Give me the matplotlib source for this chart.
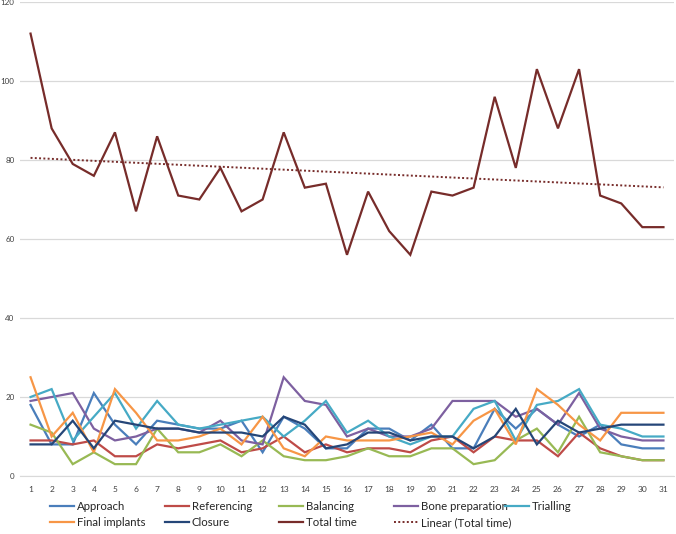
import numpy as np
import matplotlib
matplotlib.use('Agg')
import matplotlib.pyplot as plt

plt.rcParams['font.family'] = ['Lato', 'DejaVu Sans']

cases = list(range(1, 32))
approach = [18, 8, 8, 21, 13, 8, 14, 13, 12, 12, 14, 6, 15, 12, 7, 7, 12, 12, 9, 13, 7, 7, 17, 12, 17, 13, 10, 13, 8, 7, 7]
referencing = [9, 9, 8, 9, 5, 5, 8, 7, 8, 9, 6, 7, 10, 6, 8, 6, 7, 7, 6, 9, 10, 6, 10, 9, 9, 5, 11, 7, 5, 4, 4]
balancing = [13, 11, 3, 6, 3, 3, 12, 6, 6, 8, 5, 9, 5, 4, 4, 5, 7, 5, 5, 7, 7, 3, 4, 9, 12, 6, 15, 6, 5, 4, 4]
bone_prep = [19, 20, 21, 12, 9, 10, 12, 12, 11, 14, 9, 8, 25, 19, 18, 10, 12, 10, 10, 12, 19, 19, 19, 15, 17, 13, 21, 12, 10, 9, 9]
trialling = [20, 22, 9, 15, 21, 12, 19, 13, 12, 13, 14, 15, 10, 14, 19, 11, 14, 10, 8, 10, 10, 17, 19, 9, 18, 19, 22, 13, 12, 10, 10]
final_implants = [25, 10, 16, 6, 22, 16, 9, 9, 10, 12, 8, 15, 7, 5, 10, 9, 9, 9, 10, 11, 8, 14, 17, 8, 22, 18, 13, 9, 16, 16, 16]
closure = [8, 8, 14, 7, 14, 13, 12, 12, 11, 11, 11, 10, 15, 13, 7, 8, 11, 11, 9, 10, 10, 7, 10, 17, 8, 14, 11, 12, 13, 13, 13]
total_time = [112, 88, 79, 76, 87, 67, 86, 71, 70, 78, 67, 70, 87, 73, 74, 56, 72, 62, 56, 72, 71, 73, 96, 78, 103, 88, 103, 71, 69, 63, 63]

series = [
    ('Approach', approach, '#4A7EBB'),
    ('Referencing', referencing, '#BE4B48'),
    ('Balancing', balancing, '#98B954'),
    ('Bone preparation', bone_prep, '#7D60A0'),
    ('Trialling', trialling, '#46AAC5'),
    ('Final implants', final_implants, '#F79646'),
    ('Closure', closure, '#254678'),
    ('Total time', total_time, '#772C2A'),
]

fig = plt.figure(figsize=(6.76, 5.34), dpi=100)
ax = fig.add_axes([20 / 676, 1 - 476 / 534, 654 / 676, 474 / 534])

handles = {}
for name, vals, col in series:
    h, = ax.plot(cases, vals, color=col, lw=1.6, label=name, solid_joinstyle='miter')
    handles[name] = h

# linear trend of total time
coef = np.polyfit(cases, total_time, 1)
trend = np.polyval(coef, cases)
h, = ax.plot(cases, trend, color='#772C2A', lw=1.4, ls=(0, (1, 1.2)), label='Linear (Total time)')
handles['Linear (Total time)'] = h

ax.set_xlim(0.5, 31.5)
ax.set_ylim(0, 120)
ax.set_yticks(range(0, 121, 20))
ax.set_xticks(cases)
ax.grid(axis='y', color='#D9D9D9', lw=0.9)
ax.set_axisbelow(True)
for s in ['top', 'right', 'left']:
    ax.spines[s].set_visible(False)
ax.spines['bottom'].set_color('#D9D9D9')
ax.tick_params(axis='both', length=0, labelsize=5.8, colors='#404040')
ax.tick_params(axis='x', labelsize=6)
ax.tick_params(axis='y', pad=4)
ax.tick_params(axis='x', pad=7)

# legend laid out as fixed-width columns, like the original
columns = [['Approach', 'Final implants'], ['Referencing', 'Closure'], ['Balancing', 'Total time'],
           ['Bone preparation', 'Linear (Total time)'], ['Trialling']]
col_x = [50, 165, 279, 394, 505]
for xs, names in zip(col_x, columns):
    leg = fig.legend([handles[k] for k in names], names, frameon=False, fontsize=8.2,
                     loc='upper left', bbox_to_anchor=(xs / 676, 1 - 501 / 534),
                     handlelength=2.1, handletextpad=0.25, labelspacing=0.45,
                     borderaxespad=0, borderpad=0, labelcolor='#262626')

fig.savefig('out.png', dpi=100)
